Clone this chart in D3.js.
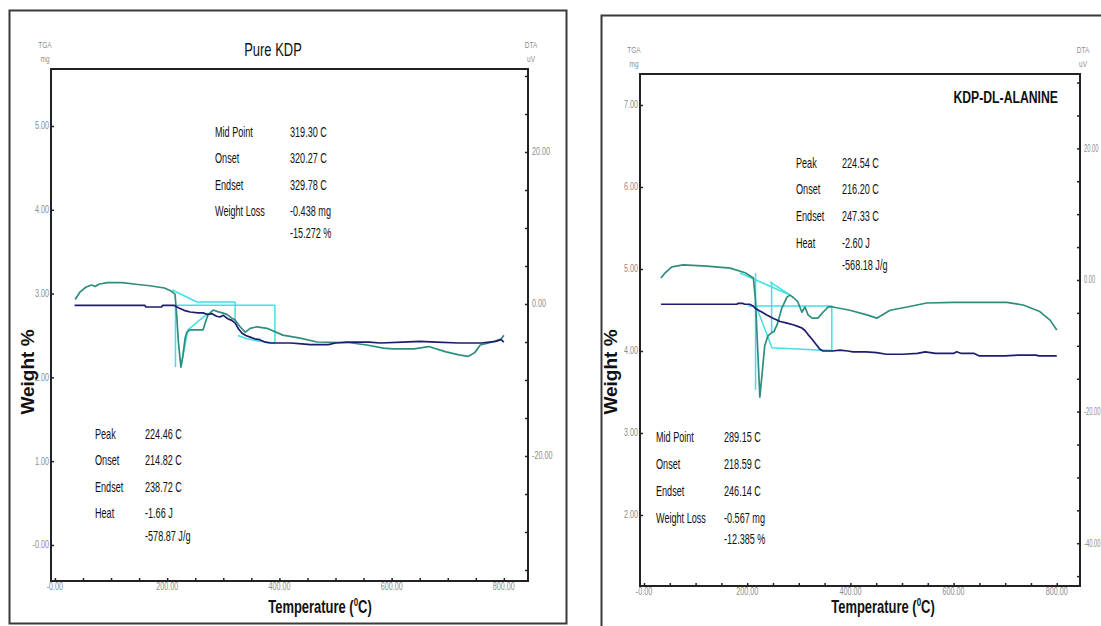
<!DOCTYPE html>
<html>
<head>
<meta charset="utf-8">
<script src="https://cdn.jsdelivr.net/npm/d3@7"></script>
<style>
  html, body { margin: 0; padding: 0; background: #fff; }
  svg { display: block; font-family: "Liberation Sans", Arial, sans-serif; }
</style>
</head>
<body>
<svg id="chart" width="1101" height="626"></svg>
<script>
// ---------- data: Pure KDP ----------
// TGA mass (mg) vs temperature (°C)
const kdpTga = [[35,2.86],[160,2.86],[162,2.84],[190,2.84],[192,2.86],[212,2.86],[220,2.83],[230,2.80],[241,2.78],[255,2.77],[264,2.77],[272,2.75],[280,2.76],[288,2.73],[294,2.72],[300,2.74],[308,2.70],[315,2.68],[321,2.65],[327,2.58],[333,2.53],[340,2.50],[348,2.48],[356,2.46],[365,2.45],[375,2.42],[383,2.41],[420,2.41],[440,2.40],[455,2.39],[487,2.39],[500,2.41],[520,2.42],[560,2.42],[580,2.41],[620,2.42],[650,2.43],[680,2.42],[720,2.41],[760,2.41],[785,2.43],[795,2.45],[800,2.42]];
// DTA signal (µV) vs temperature (°C)
const kdpDta = [[36,0.6],[45,1.6],[55,2.2],[65,2.5],[72,2.3],[78,2.6],[93,2.8],[120,2.8],[144,2.6],[169,2.4],[195,2.1],[207,1.7],[214,1.3],[217,-1.5],[220,-5.0],[224.46,-8.3],[228,-6.8],[232,-4.5],[235,-3.7],[241,-3.4],[264,-3.4],[269,-2.2],[273,-1.4],[282,-0.8],[290,-1.0],[300,-1.2],[307,-1.4],[314,-1.8],[321,-2.1],[330,-3.0],[339,-3.7],[348,-3.2],[360,-3.0],[378,-3.2],[406,-4.1],[437,-4.5],[467,-5.0],[526,-5.1],[556,-5.4],[585,-5.8],[602,-5.9],[640,-5.9],[666,-5.6],[697,-6.3],[720,-6.7],[736,-6.9],[748,-6.4],[758,-5.4],[780,-5.0],[795,-4.6],[800,-4.1]];
// analysis construction lines: TGA (mg) and DTA (µV)
const kdpTgaFit = [
  [[217,2.86],[392,2.86],[392,2.41]],
  [[253,2.90],[321,2.90],[321,2.68]],
  [[326,2.50],[342,2.46],[365,2.43],[392,2.41]]
];
const kdpDtaFit = [
  [[209,1.84],[253,0.26]],
  [[214.82,-0.1],[214.82,-8.3]],
  [[224.46,-8.3],[237,-3.4],[273,-1.2]]
];
const kdpNotesTop = [["Mid Point","319.30 C"],["Onset","320.27 C"],["Endset","329.78 C"],["Weight Loss","-0.438 mg"],["","-15.272 %"]];
const kdpNotesLow = [["Peak","224.46 C"],["Onset","214.82 C"],["Endset","238.72 C"],["Heat","-1.66 J"],["","-578.87 J/g"]];
const kdpTgaTicks = [0,1,2,3,4,5];
const kdpTgaTickText = ["-0.00","1.00","2.00","3.00","4.00","5.00"];
const kdpDtaTicks = [-20,0,20];
const kdpDtaTickText = ["-20.00","0.00","20.00"];

// ---------- data: KDP-DL-Alanine ----------
const alaTga = [[33,4.57],[180,4.57],[182,4.58],[192,4.58],[195,4.57],[205,4.57],[211,4.55],[216,4.52],[221,4.50],[230,4.47],[238,4.44],[250,4.40],[264,4.36],[277,4.34],[289,4.32],[298,4.30],[306,4.28],[312,4.25],[318,4.20],[325,4.15],[331,4.10],[336,4.06],[341,4.02],[347,4.00],[365,4.00],[380,4.01],[395,4.00],[405,3.99],[430,3.99],[451,3.98],[470,3.96],[500,3.96],[530,3.97],[545,3.99],[555,3.98],[565,3.97],[600,3.97],[606,3.99],[615,3.97],[640,3.97],[650,3.94],[700,3.94],[725,3.95],[760,3.95],[765,3.94],[800,3.94]];
const alaDta = [[33,0.3],[40,1.0],[54,2.0],[76,2.3],[122,2.1],[167,1.8],[196,1.1],[212,0.3],[216,-3],[220,-10],[224.54,-17.8],[228,-15],[234,-10],[240,-8.5],[246,-8.1],[252,-7.8],[258,-6.8],[267,-4.3],[277,-2.6],[283,-2.3],[290,-2.7],[298,-3.3],[303,-4.3],[306,-4.9],[312,-4.1],[318,-5.3],[326,-5.8],[337,-5.8],[347,-4.9],[357,-4.1],[366,-4.1],[399,-4.6],[432,-5.3],[451,-5.8],[477,-4.6],[510,-4.1],[548,-3.5],[600,-3.4],[651,-3.4],[703,-3.4],[735,-3.8],[767,-4.8],[787,-6.1],[800,-7.6]];
const alaTgaFit = [
  [[201,4.55],[364,4.55],[364,3.99]],
  [[215,4.585],[248,4.04],[345,4.01],[364,4.01]]
];
const alaDtaFit = [
  [[186,1.06],[283,-2.28]],
  [[244,-0.3],[283,-2.28]],
  [[216.20,1.06],[216.20,-16.7]],
  [[247.33,-0.3],[247.33,-7.9]]
];
const alaNotesTop = [["Peak","224.54 C"],["Onset","216.20 C"],["Endset","247.33 C"],["Heat","-2.60 J"],["","-568.18 J/g"]];
const alaNotesLow = [["Mid Point","289.15 C"],["Onset","218.59 C"],["Endset","246.14 C"],["Weight Loss","-0.567 mg"],["","-12.385 %"]];
const alaTgaTicks = [2,3,4,5,6,7];
const alaTgaTickText = ["2.00","3.00","4.00","5.00","6.00","7.00"];
const alaDtaTicks = [-40,-20,0,20];
const alaDtaTickText = ["-40.00","-20.00","0.00","20.00"];

// shared temperature ticks
const tempTicks = [0,200,400,600,800];
const tempTickText = ["-0.00","200.00","400.00","600.00","800.00"];

// ---------- drawing ----------
const SX = 0.72;               // narrow type
const NAVY = "#1d1d70", TEAL = "#2e8e7e", CYAN = "#3fe2e2";
const svg = d3.select("#chart");

function text(g, x, y, s, o = {}) {
  const sx = o.sx || SX;
  const t = g.append("text")
    .attr("transform", o.rotate
      ? `translate(${x},${y}) rotate(${o.rotate})`
      : `translate(${x},${y}) scale(${sx},1)`)
    .attr("font-size", o.size || 14)
    .attr("font-weight", o.weight || "normal")
    .attr("text-anchor", o.anchor || "start")
    .attr("fill", o.fill || "#111");
  t.text(s);
  return t;
}

function panel(cfg) {
  const g = svg.append("g");
  const x = d3.scaleLinear().domain(cfg.xDomain).range([cfg.left, cfg.right]);
  const yT = d3.scaleLinear().domain(cfg.tgaDomain).range([cfg.bottom, cfg.top]);
  const yD = d3.scaleLinear().domain(cfg.dtaDomain).range([cfg.bottom, cfg.top]);

  // outer frame
  g.append("rect").attr("x", cfg.frame[0]).attr("y", cfg.frame[1])
    .attr("width", cfg.frame[2]).attr("height", cfg.frame[3])
    .attr("fill", "none").attr("stroke", "#3a3a3a").attr("stroke-width", 2);

  // axes
  const gray = "#8c8c8c";
  const xMinor = d3.range(0, 801, 50);
  const ax = g.append("g").attr("transform", `translate(0,${cfg.bottom})`)
    .call(d3.axisBottom(x).tickValues(xMinor).tickSize(-3).tickFormat(""));
  const axl = g.append("g").attr("transform", `translate(${cfg.left},0)`)
    .call(d3.axisLeft(yT).tickValues(cfg.tgaTicks).tickSize(-3).tickFormat(""));
  const dMinor = d3.range(Math.ceil(cfg.dtaDomain[0] / 5) * 5, cfg.dtaDomain[1], 5);
  const axr = g.append("g").attr("transform", `translate(${cfg.right},0)`)
    .call(d3.axisRight(yD).tickValues(dMinor).tickSize(-3).tickFormat(""));
  [ax, axl, axr].forEach(a => {
    a.select(".domain").remove();
    a.selectAll(".tick line").attr("stroke", "#222").attr("stroke-width", 1.5);
  });
  g.append("rect").attr("x", cfg.left).attr("y", cfg.top)
    .attr("width", cfg.right - cfg.left).attr("height", cfg.bottom - cfg.top)
    .attr("fill", "none").attr("stroke", "#222").attr("stroke-width", 2);

  // tick labels
  tempTicks.forEach((t, i) => text(g, x(t), cfg.bottom + 8.5, tempTickText[i], { size: 10, anchor: "middle", fill: gray }));
  cfg.tgaTicks.forEach((t, i) => text(g, cfg.left - 2, yT(t) + 3.5, cfg.tgaTickText[i], { size: 10, anchor: "end", fill: gray }));
  cfg.dtaTicks.forEach((t, i) => text(g, cfg.right + 4, yD(t) + 3.5, cfg.dtaTickText[i], { size: 10, fill: gray, sx: cfg.dtaLabelSx }));
  text(g, cfg.left - 6, cfg.top - 21, "TGA", { size: 9, anchor: "middle", fill: gray });
  text(g, cfg.left - 6, cfg.top - 7, "mg", { size: 9, anchor: "middle", fill: gray });
  text(g, cfg.right + 3, cfg.top - 21, "DTA", { size: 9, anchor: "middle", fill: gray });
  text(g, cfg.right + 3, cfg.top - 7, "uV", { size: 9, anchor: "middle", fill: gray });

  // axis titles
  const tx = text(g, cfg.xTitleX, 613, "", { size: 18, weight: "bold", anchor: "middle" });
  tx.append("tspan").text("Temperature (");
  tx.append("tspan").attr("font-size", 11).attr("dy", -7).text("0");
  tx.append("tspan").attr("dy", 7).text("C)");
  text(g, cfg.yTitleX, 372, "Weight %", { size: 19, weight: "bold", anchor: "middle", rotate: -90 });

  // curves
  const lineT = d3.line().x(d => x(d[0])).y(d => yT(d[1]));
  const lineD = d3.line().x(d => x(d[0])).y(d => yD(d[1]));
  const curves = g.append("g").attr("fill", "none").attr("stroke-linejoin", "round");
  cfg.tgaFit.forEach(p => curves.append("path").attr("d", lineT(p)).attr("stroke", CYAN).attr("stroke-width", 1.5));
  cfg.dtaFit.forEach(p => curves.append("path").attr("d", lineD(p)).attr("stroke", CYAN).attr("stroke-width", 1.5));
  curves.append("path").attr("d", lineD(cfg.dta)).attr("stroke", TEAL).attr("stroke-width", 1.7);
  curves.append("path").attr("d", lineT(cfg.tga)).attr("stroke", NAVY).attr("stroke-width", 1.7);

  // result notes
  [cfg.notesA, cfg.notesB].forEach(n => {
    n.rows.forEach((r, i) => {
      if (r[0]) text(g, n.x, n.ys[i], r[0], { size: 14, sx: 0.65 });
      text(g, n.vx, n.ys[i], r[1], { size: 14, sx: 0.65 });
    });
  });

  // title
  text(g, cfg.title.x, cfg.title.y, cfg.title.s, { size: cfg.title.size, weight: cfg.title.weight, anchor: cfg.title.anchor });
}

panel({
  frame: [9.5, 10.5, 557, 613],
  left: 51, right: 528, top: 69, bottom: 581,
  xDomain: [-7, 843], tgaDomain: [-0.43, 5.68], dtaDomain: [-36.45, 30.92],
  tgaTicks: kdpTgaTicks, tgaTickText: kdpTgaTickText,
  dtaTicks: kdpDtaTicks, dtaTickText: kdpDtaTickText, dtaLabelSx: 0.72,
  tga: kdpTga, dta: kdpDta, tgaFit: kdpTgaFit, dtaFit: kdpDtaFit,
  xTitleX: 320, yTitleX: 34,
  notesA: { rows: kdpNotesTop, x: 215, vx: 290, ys: [137, 163, 190, 216, 238] },
  notesB: { rows: kdpNotesLow, x: 95, vx: 145, ys: [439, 465, 492, 518, 541] },
  title: { s: "Pure KDP", x: 273, y: 56, size: 18, weight: "normal", anchor: "middle" }
});

panel({
  frame: [601.5, 15.5, 620, 700],
  left: 640, right: 1080, top: 74, bottom: 586,
  xDomain: [-7.75, 845], tgaDomain: [1.134, 7.378], dtaDomain: [-46.5, 31.3],
  tgaTicks: alaTgaTicks, tgaTickText: alaTgaTickText,
  dtaTicks: alaDtaTicks, dtaTickText: alaDtaTickText, dtaLabelSx: 0.58,
  tga: alaTga, dta: alaDta, tgaFit: alaTgaFit, dtaFit: alaDtaFit,
  xTitleX: 883, yTitleX: 617,
  notesA: { rows: alaNotesTop, x: 796, vx: 842, ys: [168, 194, 221, 248, 270] },
  notesB: { rows: alaNotesLow, x: 656, vx: 724, ys: [442, 469, 496, 523, 544] },
  title: { s: "KDP-DL-ALANINE", x: 1058, y: 103, size: 17, weight: "bold", anchor: "end" }
});
</script>
</body>
</html>
